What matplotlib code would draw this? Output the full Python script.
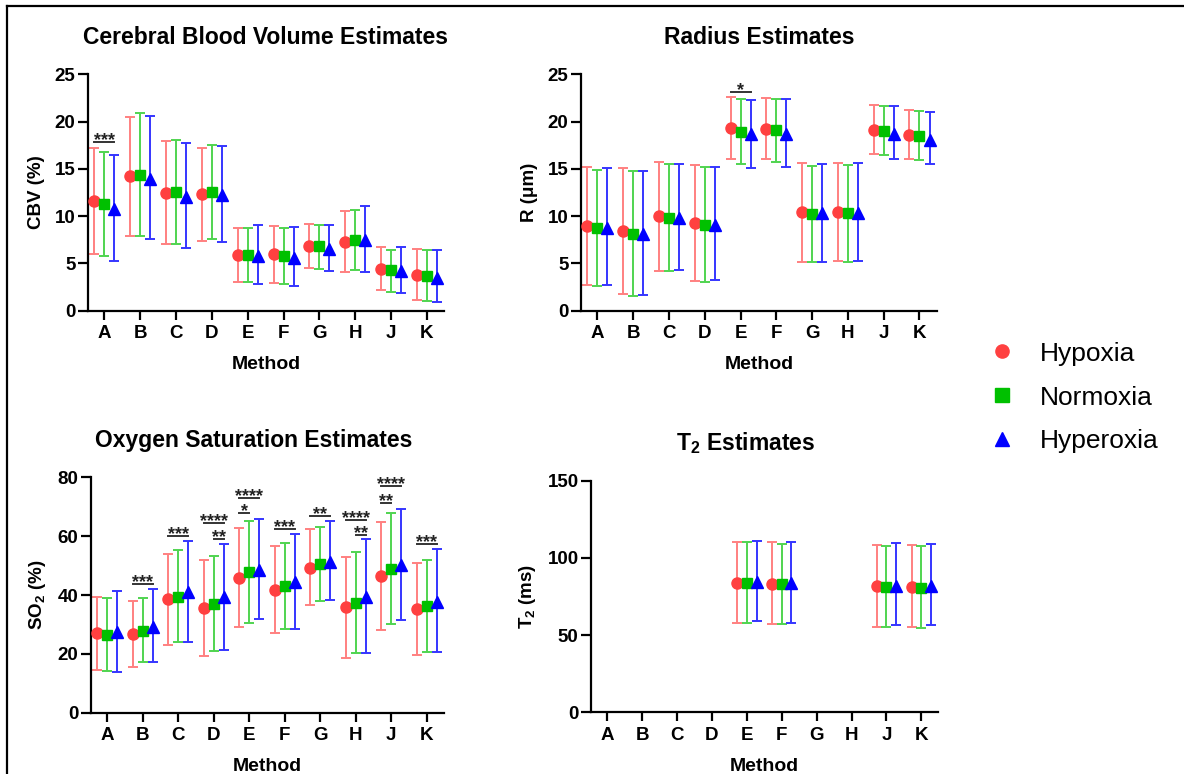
import numpy as np
import matplotlib.pyplot as plt
from matplotlib.lines import Line2D

plt.rcParams['font.family'] = ['Liberation Sans', 'DejaVu Sans']
plt.rcParams['mathtext.fontset'] = 'custom'
plt.rcParams['mathtext.rm'] = 'Liberation Sans:bold'
plt.rcParams['mathtext.bf'] = 'Liberation Sans:bold'
plt.rcParams['mathtext.it'] = 'Liberation Sans:bold'

methods = ['A', 'B', 'C', 'D', 'E', 'F', 'G', 'H', 'J', 'K']
groups = ['Hypoxia', 'Normoxia', 'Hyperoxia']
nan = np.nan

# CBV (%) : mean, upper end of bar, lower end of bar
cbv_mean = {'Hypoxia':   [11.6, 14.2, 12.45, 12.3, 5.85, 5.95, 6.85, 7.3, 4.4, 3.8],
            'Normoxia':  [11.25, 14.4, 12.5, 12.55, 5.85, 5.8, 6.85, 7.45, 4.25, 3.65],
            'Hyperoxia': [10.8, 13.9, 12.05, 12.25, 5.8, 5.55, 6.5, 7.45, 4.2, 3.5]}
cbv_hi = {'Hypoxia':   [17.2, 20.5, 17.9, 17.2, 8.7, 8.95, 9.15, 10.5, 6.7, 6.55],
          'Normoxia':  [16.75, 20.9, 18.0, 17.55, 8.7, 8.7, 9.1, 10.6, 6.45, 6.4],
          'Hyperoxia': [16.5, 20.55, 17.7, 17.45, 9.05, 8.8, 9.05, 11.05, 6.7, 6.4]}
cbv_lo = {'Hypoxia':   [6.0, 7.9, 7.1, 7.4, 3.05, 2.95, 4.5, 4.1, 2.15, 1.1],
          'Normoxia':  [5.75, 7.93, 7.1, 7.55, 3.0, 2.8, 4.45, 4.3, 2.0, 1.05],
          'Hyperoxia': [5.3, 7.55, 6.65, 7.25, 2.85, 2.6, 4.15, 4.1, 1.85, 0.9]}

# R (um)
r_mean = {'Hypoxia':   [9.0, 8.45, 10.0, 9.3, 19.3, 19.2, 10.4, 10.45, 19.1, 18.55],
          'Normoxia':  [8.7, 8.1, 9.85, 9.05, 18.95, 19.1, 10.25, 10.3, 19.05, 18.5],
          'Hyperoxia': [8.7, 8.1, 9.85, 9.1, 18.7, 18.65, 10.3, 10.35, 18.7, 18.1]}
r_hi = {'Hypoxia':   [15.15, 15.05, 15.75, 15.45, 22.65, 22.5, 15.6, 15.65, 21.8, 21.2],
        'Normoxia':  [14.9, 14.75, 15.5, 15.15, 22.4, 22.4, 15.35, 15.4, 21.7, 21.15],
        'Hyperoxia': [15.1, 14.75, 15.55, 15.15, 22.3, 22.4, 15.5, 15.6, 21.65, 21.05]}
r_lo = {'Hypoxia':   [2.75, 1.75, 4.15, 3.15, 16.0, 16.0, 5.2, 5.25, 16.55, 16.0],
        'Normoxia':  [2.6, 1.6, 4.15, 3.05, 15.5, 15.7, 5.1, 5.15, 16.45, 15.9],
        'Hyperoxia': [2.7, 1.7, 4.25, 3.25, 15.1, 15.2, 5.2, 5.3, 16.05, 15.5]}

# SO2 (%)
so2_mean = {'Hypoxia':   [27.0, 26.85, 38.5, 35.45, 45.9, 41.7, 49.3, 35.8, 46.45, 35.25],
            'Normoxia':  [26.4, 27.9, 39.45, 37.05, 47.9, 43.05, 50.4, 37.3, 48.85, 36.4],
            'Hyperoxia': [27.3, 29.2, 41.0, 39.2, 48.6, 44.3, 51.35, 39.2, 50.3, 37.75]}
so2_hi = {'Hypoxia':   [39.4, 37.95, 54.05, 51.8, 62.8, 56.55, 62.3, 53.05, 64.95, 51.0],
          'Normoxia':  [39.1, 39.0, 55.2, 53.15, 65.15, 57.8, 63.0, 54.5, 67.9, 52.0],
          'Hyperoxia': [41.25, 42.15, 58.35, 57.45, 65.95, 60.75, 65.15, 58.9, 69.35, 55.65]}
so2_lo = {'Hypoxia':   [14.4, 15.65, 23.1, 19.25, 29.25, 26.95, 36.5, 18.6, 28.1, 19.6],
          'Normoxia':  [14.05, 17.1, 24.0, 20.95, 30.6, 28.55, 38.05, 20.15, 30.25, 20.75],
          'Hyperoxia': [13.8, 17.1, 24.0, 21.4, 31.95, 28.3, 38.3, 20.4, 31.5, 20.6]}

# T2 (ms), only measured for E, F, J, K
t2_mean = {'Hypoxia':   [nan, nan, nan, nan, 83.95, 83.3, nan, nan, 81.6, 81.35],
           'Normoxia':  [nan, nan, nan, nan, 83.75, 83.1, nan, nan, 81.15, 80.7],
           'Hyperoxia': [nan, nan, nan, nan, 84.2, 83.75, nan, nan, 81.6, 81.8]}
t2_hi = {'Hypoxia':   [nan, nan, nan, nan, 110.5, 110.1, nan, nan, 108.35, 108.15],
         'Normoxia':  [nan, nan, nan, nan, 110.1, 109.2, nan, nan, 107.7, 107.5],
         'Hyperoxia': [nan, nan, nan, nan, 111.15, 110.5, nan, nan, 109.45, 108.8]}
t2_lo = {'Hypoxia':   [nan, nan, nan, nan, 58.05, 57.2, nan, nan, 55.25, 55.25],
         'Normoxia':  [nan, nan, nan, nan, 58.05, 57.0, nan, nan, 55.05, 54.8],
         'Hyperoxia': [nan, nan, nan, nan, 58.9, 58.05, nan, nan, 56.35, 56.35]}

# significance brackets: (method, group from, group to, height, stars)
cbv_sig = [('A', 'Hypoxia', 'Hyperoxia', 17.85, '***')]
r_sig = [('E', 'Hypoxia', 'Hyperoxia', 23.15, '*')]
so2_sig = [('B', 'Hypoxia', 'Hyperoxia', 43.85, '***'),
           ('C', 'Hypoxia', 'Hyperoxia', 60.2, '***'),
           ('D', 'Hypoxia', 'Hyperoxia', 64.6, '****'),
           ('D', 'Normoxia', 'Hyperoxia', 59.0, '**'),
           ('E', 'Hypoxia', 'Hyperoxia', 73.0, '****'),
           ('E', 'Hypoxia', 'Normoxia', 67.75, '*'),
           ('F', 'Hypoxia', 'Hyperoxia', 62.4, '***'),
           ('G', 'Hypoxia', 'Hyperoxia', 67.0, '**'),
           ('H', 'Hypoxia', 'Hyperoxia', 65.5, '****'),
           ('H', 'Normoxia', 'Hyperoxia', 60.4, '**'),
           ('J', 'Hypoxia', 'Hyperoxia', 77.2, '****'),
           ('J', 'Hypoxia', 'Normoxia', 71.4, '**'),
           ('K', 'Hypoxia', 'Hyperoxia', 57.45, '***')]
t2_sig = []

offset = {'Hypoxia': -0.28, 'Normoxia': 0.0, 'Hyperoxia': 0.28}
marker = {'Hypoxia': 'o', 'Normoxia': 's', 'Hyperoxia': '^'}
mcolor = {'Hypoxia': '#FF4040', 'Normoxia': '#00C000', 'Hyperoxia': '#0000FF'}
ecolor = {'Hypoxia': '#FF8080', 'Normoxia': '#50D450', 'Hyperoxia': '#3535FF'}
msize = {'Hypoxia': 8.0, 'Normoxia': 7.4, 'Hyperoxia': 8.0}

fig = plt.figure(figsize=(11.84, 7.74), dpi=100)

panels = [
    ([0.0743, 0.5986, 0.3007, 0.3054], cbv_mean, cbv_hi, cbv_lo, cbv_sig, 25, 5,
     'CBV (%)', 'Cerebral Blood Volume Estimates', 0.5),
    ([0.4907, 0.5986, 0.3004, 0.3054], r_mean, r_hi, r_lo, r_sig, 25, 5,
     'R (\u03bcm)', 'Radius Estimates', 0.5),
    ([0.0766, 0.0792, 0.2984, 0.3041], so2_mean, so2_hi, so2_lo, so2_sig, 80, 20,
     'SO$_2$ (%)', 'Oxygen Saturation Estimates', 0.46),
    ([0.4992, 0.0797, 0.2931, 0.2992], t2_mean, t2_hi, t2_lo, t2_sig, 150, 50,
     'T$_2$ (ms)', 'T$_2$ Estimates', 0.445),
]

x = np.arange(len(methods))
for rect, mean, hi, lo, sig, ymax, ystep, ylab, title, tx in panels:
    ax = fig.add_axes(rect)
    for g in groups:
        m = np.array(mean[g])
        err = [m - np.array(lo[g]), np.array(hi[g]) - m]
        ax.errorbar(x + offset[g], m, yerr=err, fmt='none', ecolor=ecolor[g],
                    elinewidth=1.4, capsize=3.6, capthick=1.4, zorder=2)
        ax.plot(x + offset[g], m, ls='', marker=marker[g], color=mcolor[g],
                ms=msize[g], zorder=3)
    for meth, g1, g2, h, stars in sig:
        i = methods.index(meth)
        ax.plot([i + offset[g1], i + offset[g2]], [h, h], color='#333333', lw=1.4,
                clip_on=False)
        ax.annotate(stars, xy=(i + (offset[g1] + offset[g2]) / 2, h), xytext=(0, -2.2),
                    textcoords='offset points', ha='center', va='baseline',
                    fontsize=13, fontweight='bold', color='#222222',
                    annotation_clip=False)
    ax.set_xlim(-0.46, 9.48)
    ax.set_ylim(0, ymax)
    ax.set_yticks(np.arange(0, ymax + 1, ystep))
    ax.set_xticks(x)
    ax.set_xticklabels(methods)
    for s in ['top', 'right']:
        ax.spines[s].set_visible(False)
    for s in ['left', 'bottom']:
        ax.spines[s].set_linewidth(1.6)
    ax.tick_params(axis='both', width=1.6, labelsize=13.5)
    ax.tick_params(axis='y', length=7, pad=2)
    ax.tick_params(axis='x', length=6.5, pad=4)
    for lab in ax.get_xticklabels() + ax.get_yticklabels():
        lab.set_fontweight('bold')
    ax.set_xlabel('Method', fontsize=14, fontweight='bold', labelpad=10)
    ax.set_ylabel(ylab, fontsize=13.5, fontweight='bold', labelpad=7)
    ax.set_title(title, fontsize=16.5, fontweight='bold', pad=22, x=tx)

handles = [Line2D([], [], ls='', marker=marker[g], color=mcolor[g], ms=9.5) for g in groups]
fig.legend(handles, groups, loc='center left', bbox_to_anchor=(0.835, 0.4864),
           frameon=False, fontsize=19, handlelength=1.0, handletextpad=0.94,
           labelspacing=0.75, borderpad=0, borderaxespad=0)

# frame lines on the left and top of the figure
fig.add_artist(Line2D([7 / 1184, 7 / 1184], [0, 1 - 6 / 774], color='black', lw=1.6))
fig.add_artist(Line2D([7 / 1184, 1], [1 - 6 / 774, 1 - 6 / 774], color='black', lw=1.6))

fig.savefig('out.png', dpi=100)
